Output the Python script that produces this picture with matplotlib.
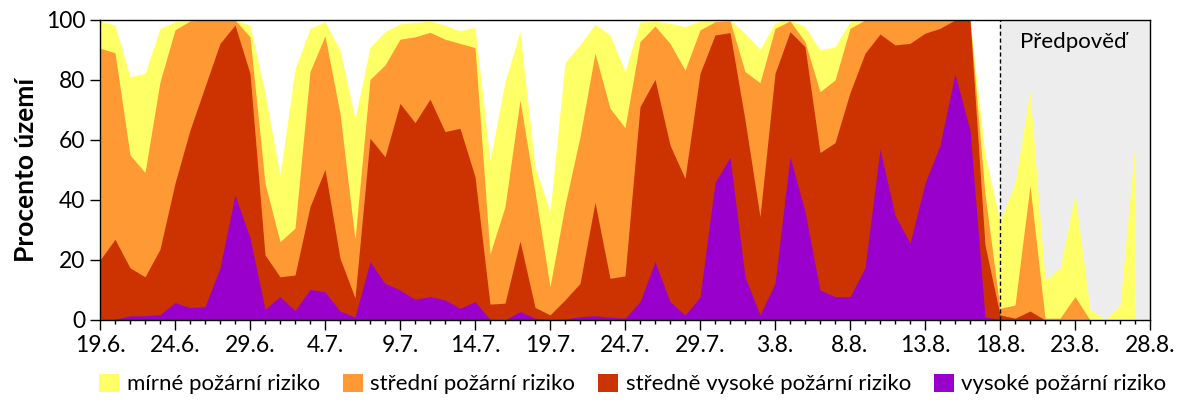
import matplotlib
matplotlib.use("Agg")
import matplotlib.pyplot as plt
import numpy as np
from matplotlib.patches import Patch
from matplotlib.ticker import MultipleLocator

# cumulative top edge of each band, % of territory, daily from 19.6. (index 0)
top_mirne = [99.7, 98.3, 81.1, 82.2, 97.2, 99.4, 100, 100, 100, 100,
             98.3, 75.6, 48.3, 83.6, 97.2, 99.4, 90, 67.2, 90.9, 96.1,
             98.7, 99.2, 99.6, 98.3, 96.4, 97.6, 53.3, 79.4, 96.1, 51.1,
             36.1, 85.8, 91.7, 98.6, 95, 82.8, 99.3, 99.6, 98.9, 97.8,
             99.7, 100, 100, 95.6, 90.2, 99.1, 100, 97.8, 90, 91.1,
             99.4, 100, 100, 100, 100, 100, 100, 100, 100, 55,
             33.1, 45.6, 76.3, 13.3, 17.2, 41.9, 3.5, 0.2, 4.8, 58.9]
top_stredni = [90.6, 89.1, 55, 49.2, 79.4, 96.7, 99.7, 100, 100, 100,
               94.4, 45.6, 26.1, 30.6, 82.8, 94.7, 68.9, 26.8, 80.2, 85,
               93.6, 94.4, 95.9, 93.6, 92.2, 90.8, 22, 37.8, 73.3, 42.8,
               11.1, 38.3, 61.1, 88.9, 70.6, 64.1, 92.8, 98, 92.2, 83.3,
               96.7, 99.4, 99.7, 82.8, 79.1, 97.2, 99.7, 92.8, 76.1, 80,
               97.2, 100, 100, 100, 100, 100, 100, 100, 100, 42,
               3.9, 5, 44.8, 0.6, 0.6, 7.8, 0, 0, 0, 0]
top_stredne_vysoke = [20, 26.9, 17.4, 14.4, 23.6, 45.6, 63.3, 77.8, 92.2, 98.3,
                      82.2, 21.7, 14.4, 15, 37.8, 50.2, 20.6, 7.4, 60.6, 54.4,
                      72.2, 65.8, 73.6, 62.8, 63.9, 47.8, 5.3, 5.6, 26.3, 4.2,
                      1.7, 6.7, 12.2, 39.2, 13.9, 14.7, 71.1, 80.2, 58.3, 47.2,
                      82.2, 95, 95.8, 66.7, 34.4, 82.2, 96.1, 91.1, 55.8, 59.1,
                      75.8, 88.9, 95.3, 91.7, 92.2, 95.6, 97.2, 100, 100, 25,
                      1.7, 0.6, 3, 0, 0, 0, 0, 0, 0, 0]
top_vysoke = [0, 0.2, 1.4, 1.4, 1.8, 5.8, 4.1, 4.4, 17.4, 41.7,
              27.4, 3.6, 7.8, 3.1, 10.2, 9.4, 3, 1, 19.4, 12.2,
              10, 6.9, 7.8, 6.7, 3.9, 6.1, 0.2, 0, 2.8, 0.6,
              0.2, 0.3, 1.1, 1.4, 0.9, 0.6, 6.1, 19.4, 6.1, 1.7,
              7.6, 45.8, 54.2, 14.4, 1.7, 12.2, 54.4, 36.1, 10, 7.8,
              7.8, 17.4, 56.9, 35, 25.6, 45.6, 58.3, 82, 63.3, 1,
              0.2, 0, 0, 0, 0, 0, 0, 0, 0, 0]

labels = ["mírné požární riziko", "střední požární riziko",
          "středně vysoké požární riziko", "vysoké požární riziko"]
colors = ["#FFFF66", "#FF9933", "#CC3300", "#9900CC"]

tick_labels = ["19.6.", "24.6.", "29.6.", "4.7.", "9.7.", "14.7.", "19.7.",
               "24.7.", "29.7.", "3.8.", "8.8.", "13.8.", "18.8.", "23.8.", "28.8."]
n_days_axis = 70
forecast_start = 60  # 18.8.

plt.rcParams["font.family"] = ["Lato", "DejaVu Sans"]

fig = plt.figure(figsize=(12, 4), dpi=100)
ax = fig.add_axes([100 / 1200, 80 / 400, 1050 / 1200, 300 / 400])

ax.axvspan(forecast_start, n_days_axis, color="#EDEDED", lw=0, zorder=0)

x = np.arange(len(top_mirne))
for top, c in zip([top_mirne, top_stredni, top_stredne_vysoke, top_vysoke], colors):
    ax.fill_between(x, 0, top, color=c, lw=0, zorder=1)

ax.axvline(forecast_start, color="black", lw=1, ls=(0, (3, 2)), zorder=3)
ax.text(64.9, 92.5, "Předpověď", ha="center", va="center", fontsize=16)

ax.set_xlim(0, n_days_axis)
ax.set_ylim(0, 100)
ax.set_xticks(range(0, n_days_axis + 1, 5), tick_labels)
ax.xaxis.set_minor_locator(MultipleLocator(1))
ax.set_yticks(range(0, 101, 20))
ax.tick_params(axis="both", which="major", labelsize=16.5, length=7, width=1)
ax.tick_params(axis="x", which="minor", length=3, width=1)
ax.set_ylabel("Procento území", fontsize=19, fontweight="bold", labelpad=6)
for s in ax.spines.values():
    s.set_linewidth(1)
    s.set_zorder(4)

handles = [Patch(facecolor=c, edgecolor="none") for c in colors]
fig.legend(handles, labels, loc="center left", bbox_to_anchor=(99 / 1200, 0.04),
           ncol=4, frameon=False, fontsize=16, handlelength=0.9, handleheight=0.9,
           handletextpad=0.35, columnspacing=1.02, borderaxespad=0, borderpad=0)

fig.savefig("out.png", dpi=100)
